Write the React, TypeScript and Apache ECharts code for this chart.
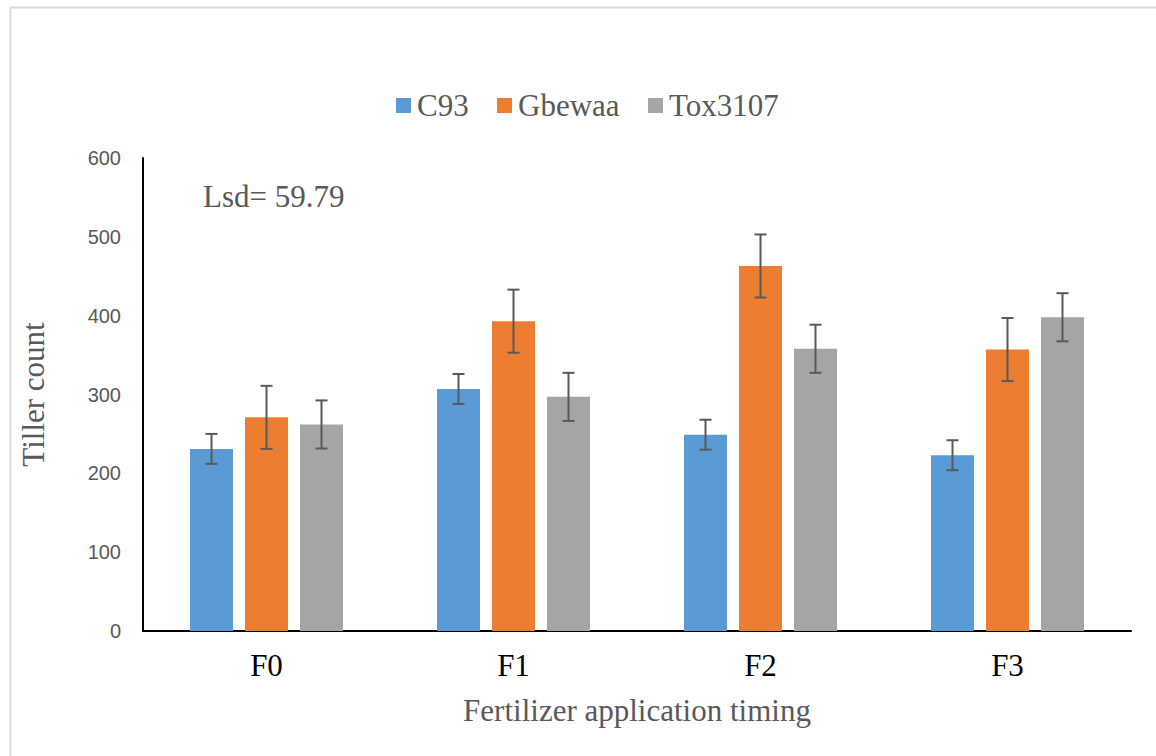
import React, { useEffect, useRef } from "react";
import * as echarts from "echarts";

const categories = ["F0", "F1", "F2", "F3"];
const seriesNames = ["C93", "Gbewaa", "Tox3107"];
const c93 = [231, 307, 249, 223];
const gbewaa = [271, 393, 463, 357];
const tox3107 = [262, 297, 358, 398];
const c93Err = [19, 19, 19, 19];
const gbewaaErr = [40, 40, 40, 40];
const tox3107Err = [30.5, 30.5, 30.5, 30.5];
const yTicks = { min: 0, max: 600, interval: 100 };
const lsdLabel = "Lsd= 59.79";

const colors = ["#5B9BD5", "#ED7D31", "#A5A5A5"];
const BAR_W = 43;
const BAR_GAP_PX = 12;

export default function App() {
  const ref = useRef<HTMLDivElement>(null);
  useEffect(() => {
    if (!ref.current) return;
    const chart = echarts.init(ref.current, null, { renderer: "svg" });
    const values = [c93, gbewaa, tox3107];
    const errs = [c93Err, gbewaaErr, tox3107Err];
    const serif = "Liberation Serif";
    const legendFamily = "'Times New Roman', 'Liberation Serif', serif";
    const barSeries = seriesNames.map((name, i) => ({
      name,
      type: "bar",
      data: values[i],
      barWidth: BAR_W,
      barGap: (BAR_GAP_PX / BAR_W) * 100 + "%",
      itemStyle: { color: colors[i] },
      z: 2,
    }));
    const errSeries = seriesNames.map((name, i) => ({
      name: name + "_err",
      type: "custom",
      z: 5,
      data: categories.map((_, k) => [k, values[i][k] - errs[i][k], values[i][k] + errs[i][k]]),
      encode: { x: 0, y: [1, 2] },
      renderItem: (params: any, api: any) => {
        const k = api.value(0);
        const lo = api.coord([k, api.value(1)]);
        const hi = api.coord([k, api.value(2)]);
        const x = lo[0] + (i - 1) * (BAR_W + BAR_GAP_PX);
        const half = 6;
        const style = { stroke: "#595959", lineWidth: 2 };
        return {
          type: "group",
          children: [
            { type: "line", shape: { x1: x, y1: lo[1], x2: x, y2: hi[1] }, style },
            { type: "line", shape: { x1: x - half, y1: lo[1], x2: x + half, y2: lo[1] }, style },
            { type: "line", shape: { x1: x - half, y1: hi[1], x2: x + half, y2: hi[1] }, style },
          ],
        };
      },
    }));

    // custom legend (serif text), item text start positions measured in the reference
    const markerX = [396, 497, 648];
    const legendItems: any[] = [];
    seriesNames.forEach((name, i) => {
      legendItems.push({
        type: "rect",
        x: markerX[i],
        y: 98,
        shape: { width: 15, height: 15 },
        style: { fill: colors[i] },
        silent: true,
      });
      legendItems.push({
        type: "text",
        x: markerX[i] + 21,
        y: 105.5,
        style: {
          text: name,
          font: "31px " + legendFamily,
          fontFamily: legendFamily,
          fontSize: 31,
          fill: "#595959",
          verticalAlign: "middle",
        },
        silent: true,
      });
    });

    chart.setOption({
      animation: false,
      backgroundColor: "#ffffff",
      textStyle: { fontFamily: serif },
      grid: { left: 143, right: 25, top: 158, bottom: 125 },
      xAxis: {
        type: "category",
        data: categories,
        axisLine: { lineStyle: { color: "#000", width: 2 } },
        axisTick: { show: false },
        axisLabel: { fontFamily: serif, fontSize: 31, color: "#000", margin: 19 },
        name: "Fertilizer application timing",
        nameLocation: "middle",
        nameGap: 64,
        nameTextStyle: { fontFamily: serif, fontSize: 31, color: "#595959" },
      },
      yAxis: {
        type: "value",
        min: yTicks.min,
        max: yTicks.max,
        interval: yTicks.interval,
        axisLine: { show: true, lineStyle: { color: "#000", width: 2 } },
        axisTick: { show: false },
        splitLine: { show: false },
        axisLabel: { fontFamily: "Liberation Sans", fontSize: 20, color: "#595959", margin: 22 },
        name: "Tiller count",
        nameLocation: "middle",
        nameGap: 94,
        nameTextStyle: { fontFamily: serif, fontSize: 31, color: "#595959" },
      },
      graphic: [
        {
          type: "rect",
          left: 8,
          top: 5,
          shape: { width: 1300, height: 900 },
          style: { fill: "none", stroke: "#d9d9d9", lineWidth: 2 },
          silent: true,
          z: -1,
        },
        {
          type: "text",
          x: 203,
          y: 196,
          style: {
            text: lsdLabel,
            fontFamily: serif,
            fontSize: 31,
            fill: "#595959",
            verticalAlign: "middle",
          },
        },
        ...legendItems,
      ],
      series: [...barSeries, ...errSeries],
    });
    return () => chart.dispose();
  }, []);
  return (
    <div
      ref={ref}
      style={{ position: "absolute", left: 0, top: 0, width: 1156, height: 756 }}
    />
  );
}
